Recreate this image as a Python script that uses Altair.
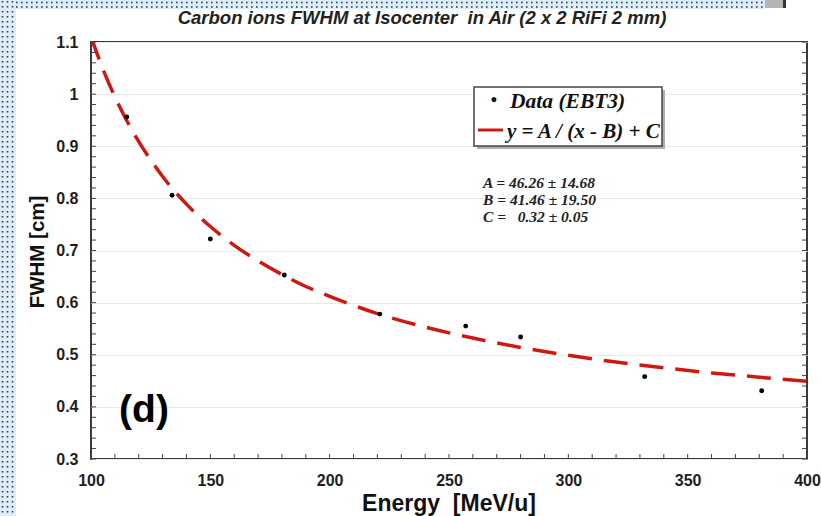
import altair as alt
import pandas as pd

# ---- data ----
energy = [115, 134, 150, 181, 221, 257, 280, 332, 381]
fwhm = [0.956, 0.806, 0.722, 0.653, 0.578, 0.555, 0.534, 0.458, 0.431]

fit_x = [100, 105, 110, 115, 120, 125, 130, 140, 150, 160, 170, 180, 190, 200,
         220, 240, 260, 280, 300, 320, 340, 360, 380, 400]
fit_y = [1.110, 1.048, 0.995, 0.949, 0.909, 0.874, 0.842, 0.789, 0.746, 0.710,
         0.680, 0.654, 0.631, 0.612, 0.579, 0.553, 0.532, 0.514, 0.499, 0.486,
         0.475, 0.465, 0.457, 0.449]

x_tick_labels = [100, 150, 200, 250, 300, 350, 400]
y_tick_labels = [0.3, 0.4, 0.5, 0.6, 0.7, 0.8, 0.9, 1.0, 1.1]
x_minor = [100 + 10 * i for i in range(31)]
y_minor = [round(0.3 + 0.02 * i, 2) for i in range(41)]

title_text = "Carbon ions FWHM at Isocenter\u00a0\u00a0in Air (2 x 2 RiFi 2 mm)"
x_title = "Energy\u00a0\u00a0[MeV/u]"
y_title = "FWHM [cm]"
panel_label = "(d)"
legend_labels = ["Data (EBT3)", "y = A / (x - B) + C"]
fit_params = ["A = 46.26 \u00b1 14.68", "B = 41.46 \u00b1 19.50", "C =\u00a0\u00a0\u00a00.32 \u00b1 0.05"]

W, H = 716, 417
SANS = "Liberation Sans"
SERIF = "Liberation Serif"

xs = alt.Scale(domain=[100, 400], nice=False, zero=False)
ys = alt.Scale(domain=[0.3, 1.1], nice=False, zero=False)

pts_df = pd.DataFrame({"E": energy, "F": fwhm})
fit_df = pd.DataFrame({"E": fit_x, "F": fit_y})


def one():
    return alt.Chart(pd.DataFrame({"k": [0]}))


base = alt.Chart(fit_df).mark_line(
    color="#cc1a12", strokeWidth=3.5, strokeDash=[24, 12], interpolate="monotone", clip=True
).encode(
    x=alt.X("E:Q", scale=xs, axis=alt.Axis(
        values=x_tick_labels, title=None, ticks=False, domain=False, grid=False,
        labelFlush=False,
        labelFont=SANS, labelFontWeight="bold", labelFontSize=16, labelColor="#1e1e1e",
        labelPadding=13)),
    y=alt.Y("F:Q", scale=ys, axis=alt.Axis(
        values=y_tick_labels, title=None, ticks=False, domain=False, grid=True,
        gridColor="#e8e8e8", gridWidth=1.2, labelFlush=False,
        labelExpr="format(datum.value, '.1~f')",
        labelFont=SANS, labelFontWeight="bold", labelFontSize=16, labelColor="#1e1e1e",
        labelPadding=13)),
)

points = alt.Chart(pts_df).mark_circle(color="black", size=24, opacity=1).encode(
    x=alt.X("E:Q", scale=xs), y=alt.Y("F:Q", scale=ys))

ymin_df = pd.DataFrame({"F": y_minor})
xmin_df = pd.DataFrame({"E": x_minor})
tick_col = "#444"
ytl = alt.Chart(ymin_df).mark_rule(color=tick_col, strokeWidth=1).encode(
    y=alt.Y("F:Q", scale=ys), x=alt.value(0), x2=alt.value(5))
ytr = alt.Chart(ymin_df).mark_rule(color=tick_col, strokeWidth=1).encode(
    y=alt.Y("F:Q", scale=ys), x=alt.value(W - 5), x2=alt.value(W))
xtb = alt.Chart(xmin_df).mark_rule(color=tick_col, strokeWidth=1).encode(
    x=alt.X("E:Q", scale=xs), y=alt.value(H - 5), y2=alt.value(H))

# legend
shadow = one().mark_rect(color="#9a9a9a", opacity=0.8).encode(
    x=alt.value(386), x2=alt.value(574), y=alt.value(48), y2=alt.value(107))
box = one().mark_rect(fill="white", stroke="#444", strokeWidth=1.5).encode(
    x=alt.value(383), x2=alt.value(571), y=alt.value(45), y2=alt.value(104))
bullet = one().mark_text(text="\u2022", font=SERIF, fontSize=18, fontWeight="bold",
                         align="center", baseline="middle", color="#111").encode(
    x=alt.value(403), y=alt.value(59))
leg1 = one().mark_text(text=legend_labels[0], font=SERIF, fontSize=21.5, fontWeight="bold",
                       fontStyle="italic", align="left", baseline="middle", color="#111").encode(
    x=alt.value(419), y=alt.value(60))
legline = one().mark_rule(color="#cc1a12", strokeWidth=3).encode(
    x=alt.value(387), x2=alt.value(412), y=alt.value(88))
leg2 = one().mark_text(text=legend_labels[1], font=SERIF, fontSize=21, fontWeight="bold",
                       fontStyle="italic", align="left", baseline="middle", color="#111").encode(
    x=alt.value(416), y=alt.value(90))

params = one().mark_text(text="\n".join(fit_params), lineBreak="\n", lineHeight=17,
                         font=SERIF, fontSize=15.5, fontWeight="bold", fontStyle="italic",
                         align="left", baseline="top", color="#222").encode(
    x=alt.value(392), y=alt.value(134))

panel = one().mark_text(text=panel_label, font=SANS, fontSize=39, fontWeight="bold",
                        align="center", baseline="middle", color="black").encode(
    x=alt.value(53), y=alt.value(368))

title = one().mark_text(text=title_text, font=SANS, fontSize=18.5, fontWeight="bold",
                        fontStyle="italic", align="center", baseline="middle", color="#222").encode(
    x=alt.value(331), y=alt.value(-24))
ytitle = one().mark_text(text=y_title, font=SANS, fontSize=20.5, fontWeight="bold",
                         angle=270, align="center", baseline="middle", color="#111").encode(
    x=alt.value(-53), y=alt.value(210))
xtitle = one().mark_text(text=x_title, font=SANS, fontSize=23, fontWeight="bold",
                         align="center", baseline="middle", color="#111").encode(
    x=alt.value(358), y=alt.value(462))

# page decoration (dotted blue border strip, gray block)
deco_col = "#dcecf8"
lstrip = one().mark_rect(color=deco_col).encode(
    x=alt.value(-91), x2=alt.value(-75), y=alt.value(-42), y2=alt.value(474))
tstrip = one().mark_rect(color=deco_col).encode(
    x=alt.value(-91), x2=alt.value(674), y=alt.value(-42), y2=alt.value(-33))
gblock = one().mark_rect(color="#b4b4b8").encode(
    x=alt.value(674), x2=alt.value(692), y=alt.value(-42), y2=alt.value(-34))
gline = one().mark_rect(color="#333").encode(
    x=alt.value(692), x2=alt.value(695), y=alt.value(-42), y2=alt.value(-34))
dots = []
for xv in [-88.5, -83.5, -78.5]:
    dots.append(one().mark_rule(color="#2a3a4a", strokeWidth=1.6, strokeDash=[1.6, 3.4]).encode(
        x=alt.value(xv), y=alt.value(-41), y2=alt.value(474)))
for yv in [-39.5, -35.0]:
    dots.append(one().mark_rule(color="#2a3a4a", strokeWidth=1.6, strokeDash=[1.6, 3.4]).encode(
        y=alt.value(yv), x=alt.value(-75), x2=alt.value(674)))

chart = alt.layer(
    lstrip, tstrip, gblock, gline, *dots,
    base, ytl, ytr, xtb, points,
    shadow, box, bullet, leg1, legline, leg2, params, panel,
    title, ytitle, xtitle,
).properties(
    width=W, height=H,
    autosize=alt.AutoSizeParams(type="none"),
    padding={"left": 91, "top": 42, "right": 14, "bottom": 57},
    background="white",
).configure_view(stroke="#3a3a3a", strokeWidth=2)

chart.save("out.html", embed_options={"renderer": "svg", "actions": False})
